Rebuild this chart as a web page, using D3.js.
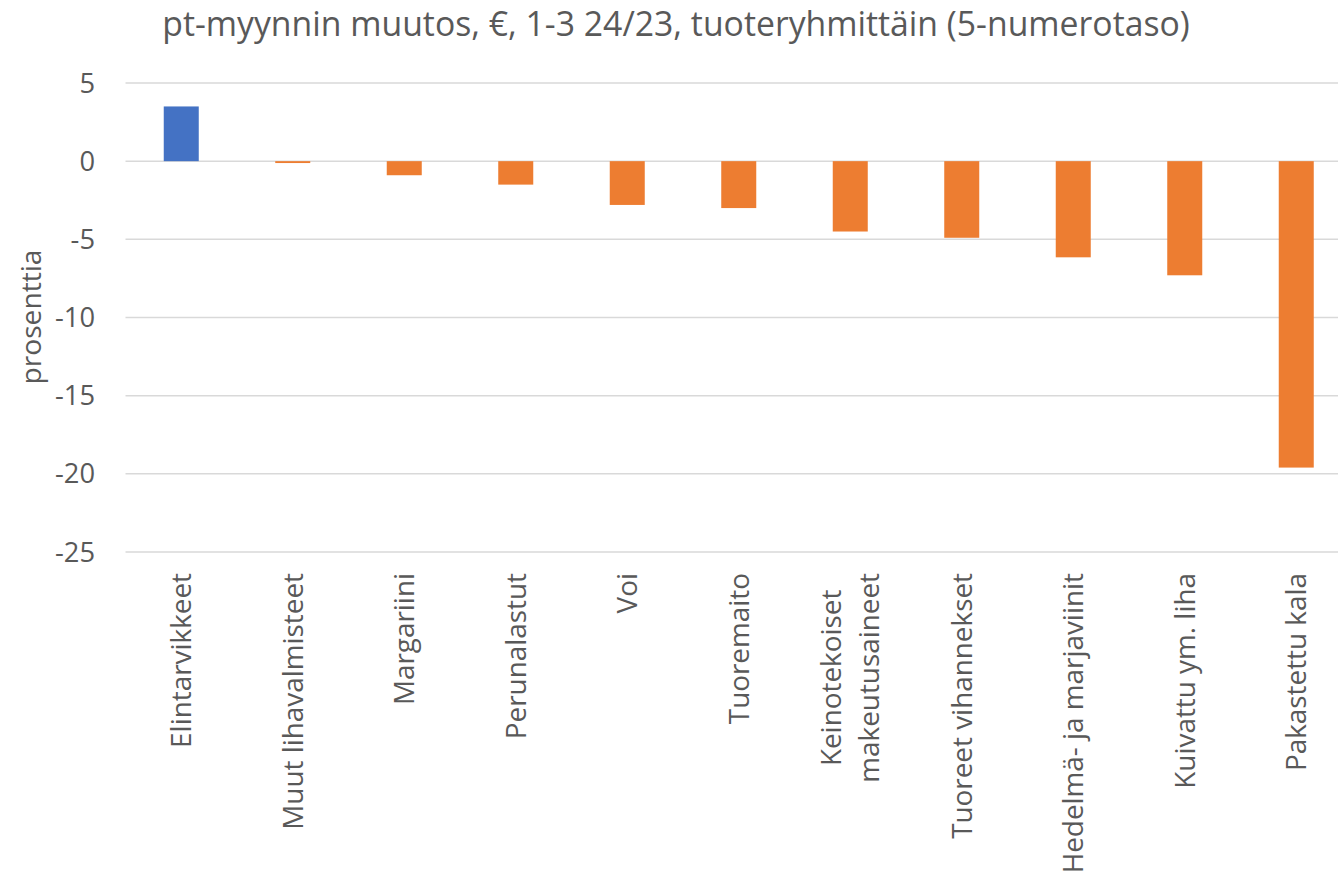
<!DOCTYPE html>
<html>
<head>
<meta charset="utf-8">
<script src="https://cdn.jsdelivr.net/npm/d3@7"></script>
<style>
  html, body { margin: 0; padding: 0; background: #fff; }
  svg { display: block; font-family: "Open Sans", sans-serif; }
</style>
</head>
<body>
<svg id="chart" width="1338" height="876"></svg>
<script>
// data
const categories = [
  'Elintarvikkeet',
  'Muut lihavalmisteet',
  'Margariini',
  'Perunalastut',
  'Voi',
  'Tuoremaito',
  'Keinotekoiset\nmakeutusaineet',
  'Tuoreet vihannekset',
  'Hedelmä- ja marjaviinit',
  'Kuivattu ym. liha',
  'Pakastettu kala'
];
const values = [3.5, -0.12, -0.9, -1.5, -2.8, -3.0, -4.5, -4.9, -6.15, -7.3, -19.6];
const yTicks = [5, 0, -5, -10, -15, -20, -25];
const titleText = 'pt-myynnin muutos, €, 1-3 24/23, tuoteryhmittäin (5-numerotaso)';
const yTitle = 'prosenttia';

const textColor = '#595959';
const gridColor = '#d9d9d9';
const blue = '#4472C4';
const orange = '#ED7D31';

const svg = d3.select('#chart');

// plot area (right part of the chart is cut off by the picture edge)
const plotLeft = 125.5;
const step = 111.5;
const plotRight = plotLeft + step * categories.length;

const x = d3
  .scaleBand()
  .domain(categories)
  .range([plotLeft, plotRight])
  .paddingInner(0.686)
  .paddingOuter(0.343);

const y = d3.scaleLinear().domain([-25, 5]).range([552, 83]);

// fit a font size so a text reaches a given width
const fitSize = (sel, target) => {
  const len = sel.node().getComputedTextLength();
  const size = parseFloat(sel.attr('font-size'));
  sel.attr('font-size', (size * target) / len);
  return (size * target) / len;
};

// gridlines
svg
  .append('g')
  .selectAll('line')
  .data(yTicks)
  .join('line')
  .attr('x1', plotLeft)
  .attr('x2', 1338)
  .attr('y1', (d) => y(d))
  .attr('y2', (d) => y(d))
  .style('stroke', gridColor)
  .style('stroke-width', 1.5);

// y tick labels
const tickLabels = svg
  .append('g')
  .selectAll('text')
  .data(yTicks)
  .join('text')
  .attr('x', 95)
  .attr('y', (d) => y(d))
  .attr('dy', '0.35em')
  .attr('text-anchor', 'end')
  .attr('font-size', 24)
  .attr('fill', textColor)
  .text((d) => d);
const tickSize = fitSize(tickLabels.filter((d) => d === -10), 40);
tickLabels.attr('font-size', tickSize);

// bars
svg
  .append('g')
  .selectAll('rect')
  .data(values)
  .join('rect')
  .attr('x', (d, i) => x(categories[i]))
  .attr('width', x.bandwidth())
  .attr('y', (d) => y(Math.max(0, d)))
  .attr('height', (d) => Math.abs(y(d) - y(0)))
  .style('fill', (d, i) => (i === 0 ? blue : orange));

// category labels, rotated
const catGroup = svg.append('g');
const probe = catGroup
  .append('text')
  .attr('font-size', 24)
  .text('Elintarvikkeet');
const catSize = fitSize(probe, 175);
probe.remove();

const labelTop = 573;
const lineGap = 38;
categories.forEach((c) => {
  const lines = c.split('\n');
  const cx = x(c) + x.bandwidth() / 2;
  const texts = lines.map((line, k) =>
    catGroup
      .append('text')
      .attr('font-size', catSize)
      .attr('fill', textColor)
      .attr('text-anchor', 'middle')
      .attr('dy', '0.35em')
      .text(line)
  );
  const maxLen = d3.max(texts, (t) => t.node().getComputedTextLength());
  texts.forEach((t, k) => {
    const tx = cx + (k - (lines.length - 1) / 2) * lineGap;
    const ty = labelTop + maxLen / 2;
    t.attr('transform', `translate(${tx},${ty}) rotate(-90)`);
  });
});

// y axis title
const yt = svg
  .append('text')
  .attr('font-size', 24)
  .attr('fill', textColor)
  .attr('text-anchor', 'middle')
  .attr('dy', '0.35em')
  .attr('transform', 'translate(31,317) rotate(-90)')
  .text(yTitle);
fitSize(yt, 135);

// chart title
const title = svg
  .append('text')
  .attr('x', 676)
  .attr('y', 36)
  .attr('font-size', 30)
  .attr('fill', textColor)
  .attr('text-anchor', 'middle')
  .text(titleText);
fitSize(title, 1028);
</script>
</body>
</html>
